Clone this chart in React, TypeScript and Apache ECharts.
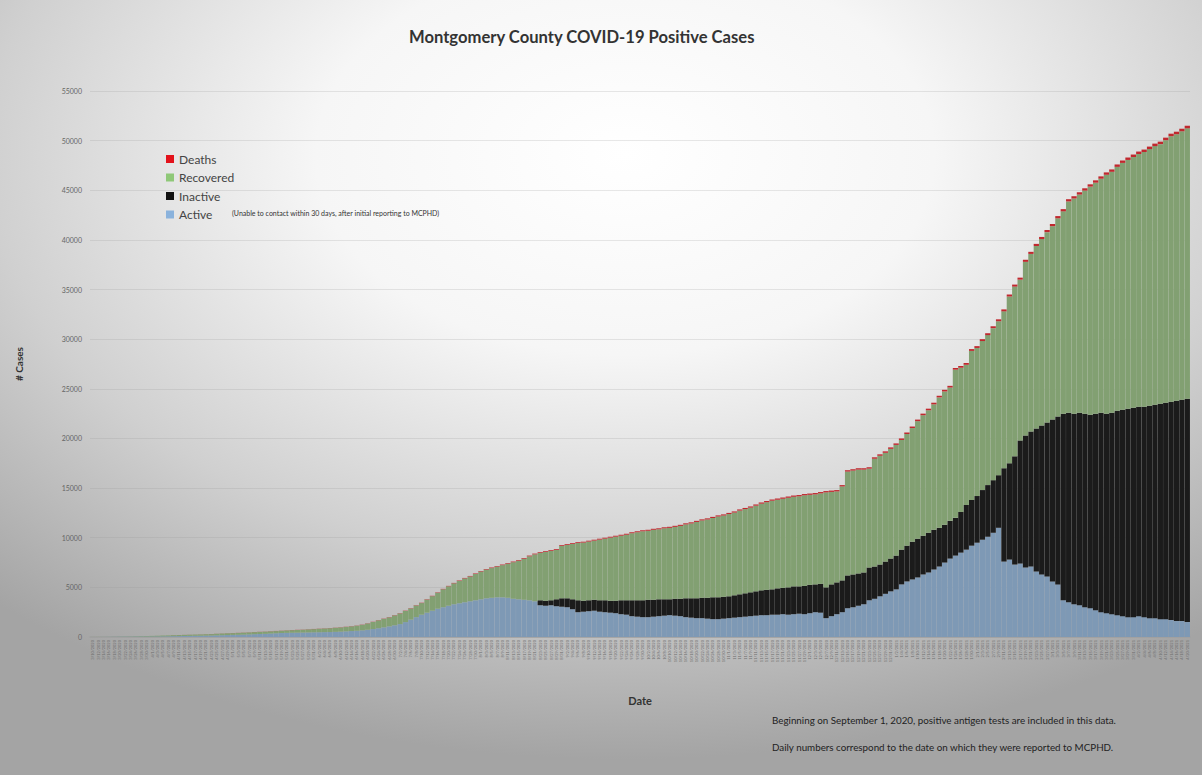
import React, { useEffect, useRef } from "react";
import * as echarts from "echarts";

const dates: string[] = [
  "3/10/2020","3/12/2020","3/14/2020","3/16/2020","3/18/2020","3/20/2020","3/22/2020","3/24/2020","3/26/2020","3/28/2020","3/30/2020",
  "4/1/2020","4/3/2020","4/5/2020","4/7/2020","4/9/2020","4/11/2020","4/13/2020","4/15/2020","4/17/2020","4/19/2020","4/21/2020","4/23/2020","4/25/2020","4/27/2020","4/29/2020",
  "5/1/2020","5/3/2020","5/5/2020","5/7/2020","5/9/2020","5/11/2020","5/13/2020","5/15/2020","5/17/2020","5/19/2020","5/21/2020","5/23/2020","5/25/2020","5/27/2020","5/29/2020","5/31/2020",
  "6/2/2020","6/4/2020","6/6/2020","6/8/2020","6/10/2020","6/12/2020","6/14/2020","6/16/2020","6/18/2020","6/20/2020","6/22/2020","6/24/2020","6/26/2020","6/28/2020","6/30/2020",
  "7/2/2020","7/4/2020","7/6/2020","7/8/2020","7/10/2020","7/12/2020","7/14/2020","7/16/2020","7/18/2020","7/20/2020","7/22/2020","7/24/2020","7/26/2020","7/28/2020","7/30/2020",
  "8/1/2020","8/3/2020","8/5/2020","8/7/2020","8/9/2020","8/11/2020","8/13/2020","8/15/2020","8/17/2020","8/19/2020","8/21/2020","8/23/2020","8/25/2020","8/27/2020","8/29/2020","8/31/2020",
  "9/2/2020","9/4/2020","9/6/2020","9/8/2020","9/10/2020","9/12/2020","9/14/2020","9/16/2020","9/18/2020","9/20/2020","9/22/2020","9/24/2020","9/26/2020","9/28/2020","9/30/2020",
  "10/2/2020","10/4/2020","10/6/2020","10/8/2020","10/10/2020","10/12/2020","10/14/2020","10/16/2020","10/18/2020","10/20/2020","10/22/2020","10/24/2020","10/26/2020","10/28/2020","10/30/2020",
  "11/1/2020","11/3/2020","11/5/2020","11/7/2020","11/9/2020","11/11/2020","11/13/2020","11/15/2020","11/17/2020","11/19/2020","11/21/2020","11/23/2020","11/25/2020","11/27/2020","11/29/2020",
  "12/1/2020","12/3/2020","12/5/2020","12/7/2020","12/9/2020","12/11/2020","12/13/2020","12/15/2020","12/17/2020","12/19/2020","12/21/2020","12/23/2020","12/25/2020","12/27/2020","12/29/2020","12/31/2020",
  "1/2/2021","1/4/2021","1/6/2021","1/8/2021","1/10/2021","1/12/2021","1/14/2021","1/16/2021","1/18/2021","1/20/2021","1/22/2021","1/24/2021","1/26/2021","1/28/2021","1/30/2021",
  "2/1/2021","2/3/2021","2/5/2021","2/7/2021","2/9/2021","2/11/2021","2/13/2021","2/15/2021","2/17/2021","2/19/2021","2/21/2021","2/23/2021","2/25/2021","2/27/2021",
  "3/1/2021","3/3/2021","3/5/2021","3/7/2021","3/9/2021","3/11/2021","3/13/2021","3/15/2021","3/17/2021","3/19/2021","3/21/2021","3/23/2021","3/25/2021","3/27/2021","3/29/2021","3/31/2021",
  "4/2/2021","4/4/2021","4/6/2021","4/8/2021","4/10/2021","4/12/2021","4/14/2021","4/16/2021","4/18/2021","4/20/2021",
];

// cumulative positive cases (top of each stacked bar)
const totalCases: number[] = [
  5,10,15,20,30,40,50,60,70,85,
  100,115,130,150,165,185,200,215,235,250,
  265,285,300,330,355,380,400,420,445,470,
  500,525,550,580,610,640,670,700,720,745,
  780,810,840,870,900,940,980,1030,1090,1150,
  1250,1380,1530,1700,1850,2000,2200,2400,2650,2900,
  3200,3450,3800,4150,4500,4850,5150,5450,5700,5950,
  6150,6400,6650,6850,7000,7150,7300,7450,7600,7750,
  7950,8200,8400,8550,8650,8750,8850,9250,9350,9450,
  9550,9600,9700,9800,9900,10000,10100,10200,10300,10400,
  10550,10650,10750,10800,10900,10950,11050,11100,11200,11300,
  11450,11550,11700,11850,11950,12100,12250,12350,12500,12650,
  12850,13000,13150,13350,13550,13700,13850,13950,14050,14150,
  14250,14300,14400,14450,14500,14600,14700,14750,14800,15300,
  16800,16900,17000,17000,17100,18100,18400,18700,19100,19500,
  20000,20600,21200,21900,22500,23000,23600,24300,24900,25300,
  27100,27300,27600,29000,29300,30000,30600,31300,32000,33000,
  34500,35500,36200,38000,38800,39600,40300,41000,41600,42400,
  43100,44100,44400,44800,45200,45600,46000,46400,46800,47100,
  47600,48000,48300,48600,48900,49100,49400,49700,49900,50300,
  50700,50900,51200,51500,
];

const activeCases: number[] = [
  0,0,5,10,15,20,25,30,35,40,
  45,50,55,60,70,80,90,100,110,120,
  130,140,150,165,180,195,210,225,240,260,
  280,300,320,350,375,400,420,430,440,450,
  460,470,480,490,500,520,540,570,600,630,
  670,730,800,880,970,1070,1180,1300,1500,1750,
  2000,2250,2450,2650,2850,3000,3150,3300,3400,3500,
  3600,3700,3800,3900,3950,4000,4000,3950,3850,3800,
  3750,3700,3600,3200,3150,3200,3100,3050,3000,2800,
  2500,2550,2600,2650,2550,2500,2450,2400,2300,2250,
  2100,2050,2000,2000,2050,2100,2150,2200,2150,2100,
  2000,1950,1900,1900,1850,1800,1800,1850,1900,1950,
  2000,2050,2100,2150,2200,2200,2250,2250,2300,2250,
  2300,2350,2300,2400,2500,2450,1900,2100,2300,2500,
  2900,3000,3150,3300,3700,3850,4100,4350,4600,4800,
  5300,5600,5800,6000,6300,6500,6800,7100,7500,7900,
  8200,8500,8800,9200,9500,9800,10100,10500,11000,7600,
  7800,7300,7400,7000,7100,6600,6300,6100,5600,5300,
  3700,3500,3300,3200,3000,2900,2700,2500,2400,2300,
  2200,2100,2000,2000,2100,2000,1900,1900,1800,1800,
  1700,1600,1600,1500,
];

const inactiveCases: number[] = [
  0,0,0,0,0,0,0,0,0,0,
  0,0,0,0,0,0,0,0,0,0,
  0,0,0,0,0,0,0,0,0,0,
  0,0,0,0,0,0,0,0,0,0,
  0,0,0,0,0,0,0,0,0,0,
  0,0,0,0,0,0,0,0,0,0,
  0,0,0,0,0,0,0,0,0,0,
  0,0,0,0,0,0,0,0,0,0,
  0,0,0,500,500,500,700,850,900,1000,
  1200,1100,1100,1100,1150,1200,1200,1250,1400,1450,
  1600,1650,1700,1750,1700,1700,1650,1600,1700,1750,
  1900,1950,2000,2050,2100,2200,2200,2200,2200,2250,
  2300,2350,2400,2450,2500,2550,2550,2650,2650,2750,
  2800,2750,2850,2850,2800,2900,3100,3200,3200,3200,
  3300,3300,3250,3200,3300,3250,3200,3250,3300,3400,
  3500,3600,3800,3900,3900,4000,4000,3900,3800,3800,
  3800,4100,4500,4600,4700,5000,5200,5300,5300,9400,
  9700,10900,12400,13300,13600,14400,15000,15500,16300,16900,
  18800,19100,19200,19400,19500,19500,19800,20100,20100,20300,
  20600,20800,21000,21100,21100,21200,21400,21500,21700,21800,
  22000,22200,22300,22500,
];

const deathCases: number[] = [
  0,0,0,0,0,0,1,1,1,1,
  2,2,3,3,3,4,4,4,5,5,
  6,6,7,7,8,8,9,9,10,10,
  10,11,11,12,12,13,13,13,14,14,
  14,15,15,15,16,16,17,17,18,19,
  20,20,21,22,23,24,25,26,27,29,
  30,32,34,35,37,39,41,43,45,48,
  50,52,54,56,58,60,62,64,66,68,
  70,72,73,75,77,78,80,81,82,84,
  85,87,88,89,91,92,93,94,95,96,
  97,98,99,100,101,103,104,105,106,107,
  108,109,110,111,112,112,113,114,115,116,
  117,118,119,120,121,122,123,124,125,126,
  126,127,128,129,130,131,132,133,134,135,
  136,138,139,140,142,143,145,146,148,149,
  151,153,155,157,159,161,163,165,167,170,
  172,175,178,181,184,187,190,192,195,198,
  201,204,206,209,212,214,216,218,220,222,
  224,226,229,231,233,234,236,237,239,240,
  241,243,244,246,247,248,250,251,252,254,
  255,256,258,259,
];

const yTicks = { min: 0, max: 55000, interval: 5000 };

const seriesNames = ["Active", "Inactive", "Recovered", "Deaths"];
const barColors = ["#7e99b5", "#1b1b1b", "#82a072", "#c0282e"];
const legendColors: Record<string, string> = {
  Deaths: "#e3121b",
  Recovered: "#8fc878",
  Inactive: "#111111",
  Active: "#8ab2dc",
};

const FONT = "Lato, 'Open Sans', 'Liberation Sans', sans-serif";

export default function App() {
  const ref = useRef<HTMLDivElement>(null);

  useEffect(() => {
    document.body.style.margin = "0";
    if (!ref.current) return;
    const chart = echarts.init(ref.current, undefined, { renderer: "svg" });

    const recoveredCases = totalCases.map((t, i) =>
      Math.max(0, t - activeCases[i] - inactiveCases[i] - deathCases[i])
    );
    const seriesData = [activeCases, inactiveCases, recoveredCases, deathCases];

    chart.setOption({
      animation: false,
      backgroundColor: {
        type: "radial",
        x: 0.52,
        y: 0.2,
        r: 0.78,
        colorStops: [
          { offset: 0, color: "#ffffff" },
          { offset: 0.33, color: "#f6f6f6" },
          { offset: 0.68, color: "#d0d0d0" },
          { offset: 1, color: "#a4a4a4" },
        ],
      },
      textStyle: { fontFamily: FONT },
      grid: { left: 90, right: 12, top: 91, bottom: 138 },
      legend: {
        orient: "vertical",
        left: 161,
        top: 147,
        icon: "rect",
        itemWidth: 8,
        itemHeight: 8,
        itemGap: 4.5,
        textStyle: { fontSize: 12, color: "#444", lineHeight: 14, fontFamily: FONT },
        data: ["Deaths", "Recovered", "Inactive", "Active"].map((n) => ({
          name: n,
          itemStyle: { color: legendColors[n] },
        })),
      },
      xAxis: {
        type: "category",
        data: dates,
        name: "Date",
        nameLocation: "middle",
        nameGap: 58,
        nameTextStyle: { fontSize: 11, fontWeight: "bold", color: "#333" },
        axisLine: { lineStyle: { color: "#a0a0a0", width: 1.5 } },
        axisTick: { show: false },
        axisLabel: {
          interval: 0,
          rotate: 90,
          fontSize: 4,
          color: "#6e6e6e",
          margin: 3,
        },
      },
      yAxis: {
        type: "value",
        min: yTicks.min,
        max: yTicks.max,
        interval: yTicks.interval,
        name: "# Cases",
        nameLocation: "middle",
        nameGap: 66,
        nameTextStyle: { fontSize: 10, fontWeight: "bold", color: "#333" },
        axisLine: { show: false },
        axisTick: { show: false },
        axisLabel: { fontSize: 7, color: "#666", margin: 8, formatter: (v: number) => String(v) },
        splitLine: { lineStyle: { color: "rgba(150,150,150,0.22)", width: 1 } },
      },
      series: seriesNames.map((name, k) => ({
        name,
        type: "bar",
        stack: "cases",
        barCategoryGap: "2%",
        itemStyle: { color: barColors[k] },
        data: seriesData[k],
      })),
      graphic: [
        {
          type: "text",
          left: 409,
          top: 28,
          style: {
            text: "Montgomery County COVID-19 Positive Cases",
            fontSize: 16.6,
            fontWeight: "bold",
            fill: "#333",
            fontFamily: FONT,
          },
        },
        {
          type: "text",
          left: 232,
          top: 209,
          style: {
            text: "(Unable to contact within 30 days, after initial reporting to MCPHD)",
            fontSize: 7,
            fill: "#333",
            fontFamily: FONT,
          },
        },
        {
          type: "text",
          left: 772,
          top: 715,
          style: {
            text: "Beginning on September 1, 2020, positive antigen tests are included in this data.",
            fontSize: 9.8,
            fill: "#222",
            fontFamily: FONT,
          },
        },
        {
          type: "text",
          left: 772,
          top: 742,
          style: {
            text: "Daily numbers correspond to the date on which they were reported to MCPHD.",
            fontSize: 9.8,
            fill: "#222",
            fontFamily: FONT,
          },
        },
      ],
    });

    return () => chart.dispose();
  }, []);

  return <div ref={ref} style={{ width: 1202, height: 775 }} />;
}
